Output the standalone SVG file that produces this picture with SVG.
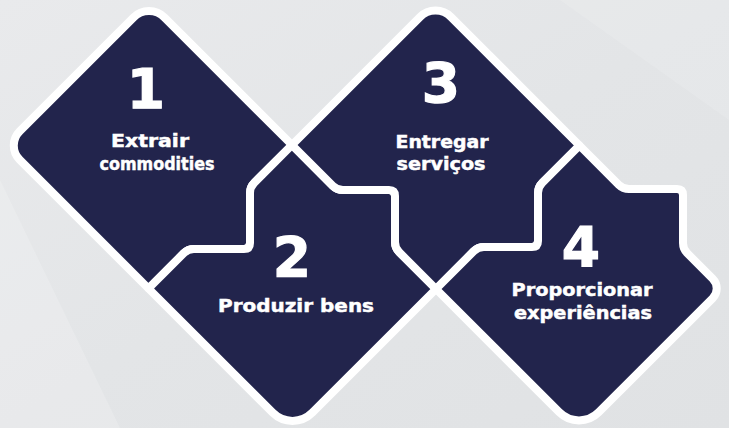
<svg xmlns="http://www.w3.org/2000/svg" width="729" height="428" viewBox="0 0 729 428">
<defs>
<linearGradient id="bg" x1="0" y1="0" x2="1" y2="1">
<stop offset="0" stop-color="#e9eaec"/>
<stop offset="0.5" stop-color="#e3e5e7"/>
<stop offset="1" stop-color="#e0e2e4"/>
</linearGradient>
<style>
.shape{fill:#22244c;stroke:#ffffff;stroke-width:8;stroke-linejoin:round}
.num{font-family:"DejaVu Sans",sans-serif;font-weight:bold;font-size:55px;fill:#ffffff;stroke:#ffffff;stroke-width:1.2;text-anchor:middle}
.lbl{font-family:"DejaVu Sans",sans-serif;font-weight:bold;font-size:18.5px;fill:#ffffff;stroke:#ffffff;stroke-width:0.5;text-anchor:middle}
</style>
</defs>
<rect width="729" height="428" fill="url(#bg)"/>
<polygon points="0,180 120,428 0,428" fill="#ffffff" opacity="0.18"/>
<polygon points="560,0 729,0 729,120" fill="#ffffff" opacity="0.12"/>
<g id="node1">
<path class="shape" d="M164.6,17.6 L292,145 L254.2,182.8 Q250,187 250,193 L250,243 Q250,249 244,249 L194,249 Q188,249 183.8,253.2 L148.5,288.5 L19.6,159.6 A20,20 0 0 1 19.6,131.4 L133.4,17.6 A22,22 0 0 1 164.6,17.6 Z"/>
<text class="num" x="146" y="108">1</text>
<text class="lbl" x="150" y="147" textLength="78" lengthAdjust="spacingAndGlyphs">Extrair</text>
<text class="lbl" x="157" y="170" textLength="115" lengthAdjust="spacingAndGlyphs">commodities</text>
</g>
<g id="node2">
<path class="shape" d="M292,145 L332.8,185.8 Q337,190 343,190 L389,190 Q395,190 395,196 L395,242 Q395,248 399.2,252.2 L436,289 L312.3,412.7 A28,28 0 0 1 272.7,412.7 L148.5,288.5 L183.8,253.2 Q188,249 194,249 L244,249 Q250,249 250,243 L250,193 Q250,187 254.2,182.8 Z"/>
<text class="num" x="292" y="276">2</text>
<text class="lbl" x="296" y="312" textLength="156" lengthAdjust="spacingAndGlyphs">Produzir bens</text>
</g>
<g id="node3">
<path class="shape" d="M451.1,17.1 L579.5,145.5 L542.2,182.8 Q538,187 538,193 L538,241 Q538,247 532,247 L484,247 Q478,247 473.8,251.2 L436,289 L399.2,252.2 Q395,248 395,242 L395,196 Q395,190 389,190 L343,190 Q337,190 332.8,185.8 L292,145 L419.9,17.1 A22,22 0 0 1 451.1,17.1 Z"/>
<text class="num" x="441" y="102">3</text>
<text class="lbl" x="442" y="148" textLength="93" lengthAdjust="spacingAndGlyphs">Entregar</text>
<text class="lbl" x="441" y="170" textLength="89" lengthAdjust="spacingAndGlyphs">serviços</text>
</g>
<g id="node4">
<path class="shape" d="M579.5,145.5 L618.8,184.8 Q623,189 629,189 L677,189 Q683,189 683,195 L683,243 Q683,249 687.2,253.2 L712.6,278.6 A14,14 0 0 1 712.6,298.4 L598.8,412.2 A28,28 0 0 1 559.2,412.2 L436,289 L473.8,251.2 Q478,247 484,247 L532,247 Q538,247 538,241 L538,193 Q538,187 542.2,182.8 Z"/>
<text class="num" x="581" y="266">4</text>
<text class="lbl" x="582" y="296" textLength="141" lengthAdjust="spacingAndGlyphs">Proporcionar</text>
<text class="lbl" x="583" y="319" textLength="138" lengthAdjust="spacingAndGlyphs">experiências</text>
</g>
<g id="connectors"></g>
</svg>
